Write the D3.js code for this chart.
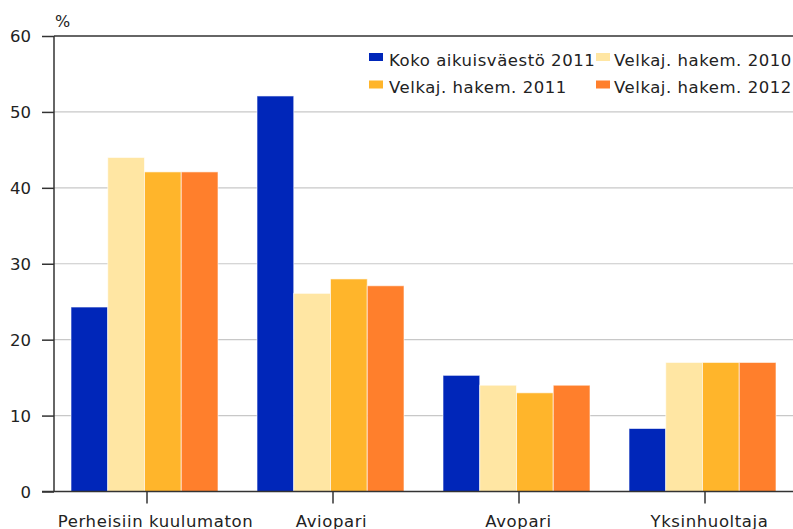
<!DOCTYPE html>
<html><head><meta charset="utf-8">
<script src="https://cdn.jsdelivr.net/npm/d3@7"></script>
<style>body{margin:0;background:#fff}svg{display:block}</style>
</head><body>
<script>
const categories = ["Perheisiin kuulumaton", "Aviopari", "Avopari", "Yksinhuoltaja"];
const seriesNames = ["Koko aikuisväestö 2011", "Velkaj. hakem. 2010", "Velkaj. hakem. 2011", "Velkaj. hakem. 2012"];
const koko2011 = [24.3, 52.1, 15.3, 8.3];
const velkaj2010 = [44.0, 26.1, 14.0, 17.0];
const velkaj2011 = [42.1, 28.0, 13.0, 17.0];
const velkaj2012 = [42.1, 27.1, 14.0, 17.0];
const yTicks = [0, 10, 20, 30, 40, 50, 60];
const colors = ["#0026b9", "#ffe6a3", "#ffb52b", "#ff7f2c"];

const series = [koko2011, velkaj2010, velkaj2011, velkaj2012];
const labelShift = [8.5, -1.5, -0.5, 4.5];
const W = 793, H = 529;
const font = "'DejaVu Sans', sans-serif";
const svg = d3.select("body").append("svg").attr("width", W).attr("height", H)
  .style("font-family", font);

const x0 = d3.scaleBand().domain(categories).range([54, 798]).paddingInner(0).paddingOuter(0);
const x1 = d3.scaleBand().domain(d3.range(series.length)).range([17, 164]);
const y = d3.scaleLinear().domain([0, 60]).range([491.5, 36]);

// gridlines
svg.append("g").selectAll("line").data(yTicks.filter(t => t > 0 && t < 60)).join("line")
  .attr("x1", 54).attr("x2", W).attr("y1", d => y(d)).attr("y2", d => y(d))
  .attr("stroke", "#c8c8c8").attr("stroke-width", 1.2);
// top border
svg.append("line").attr("x1", 54).attr("x2", W).attr("y1", y(60)).attr("y2", y(60))
  .attr("stroke", "#333").attr("stroke-width", 1.5);

// bars
const groups = svg.append("g").selectAll("g").data(categories).join("g")
  .attr("transform", d => `translate(${x0(d)},0)`);
groups.selectAll("rect").data((c, i) => series.map((s, k) => ({k, v: s[i]}))).join("rect")
  .attr("x", d => x1(d.k)).attr("width", x1.bandwidth())
  .attr("y", d => y(d.v)).attr("height", d => y(0) - y(d.v))
  .attr("fill", d => colors[d.k])
  .attr("stroke", "rgba(255,255,255,0.6)").attr("stroke-width", 1);

// y axis
const yAxis = d3.axisLeft(y).tickValues(yTicks).tickSize(12).tickPadding(11);
const gy = svg.append("g").attr("transform", "translate(54,0)").call(yAxis);
gy.select(".domain").attr("stroke", "#333").attr("stroke-width", 1.5).attr("d", `M0,${y(60)}V${y(0)}`);
gy.selectAll(".tick line").attr("stroke", "#333").attr("stroke-width", 1.5);
gy.selectAll(".tick text").attr("font-size", 16.5).attr("font-family", font).attr("fill", "#222").attr("dy", "0.36em");

// x axis
const xAxis = d3.axisBottom(x0).tickSize(12).tickPadding(9).tickSizeOuter(0);
const gx = svg.append("g").attr("transform", `translate(0,${y(0)})`).call(xAxis);
gx.select(".domain").attr("stroke", "#333").attr("stroke-width", 1.5).attr("d", `M42,0H${W}`);
gx.selectAll(".tick line").attr("stroke", "#333").attr("stroke-width", 1.5);
gx.selectAll(".tick text").attr("font-size", 16.5).attr("font-family", font).attr("fill", "#222")
  .attr("dy", "0.9em").attr("letter-spacing", "0.6px")
  .attr("dx", (d, i) => labelShift[i]);

// unit label
svg.append("text").attr("x", 55).attr("y", 26.5).attr("font-size", 16).attr("fill", "#222").text("%");

// legend
const legPos = [[369, 53, 389, 66], [596, 53, 614, 66], [369, 80.5, 389, 92.5], [596, 80.5, 614, 92.5]];
const leg = svg.append("g").selectAll("g").data(seriesNames).join("g");
leg.append("rect").attr("x", (d, i) => legPos[i][0]).attr("y", (d, i) => legPos[i][1])
  .attr("width", 14).attr("height", 8).attr("fill", (d, i) => colors[i]);
leg.append("text").attr("x", (d, i) => legPos[i][2]).attr("y", (d, i) => legPos[i][3])
  .attr("font-size", 16.5).attr("fill", "#222").attr("letter-spacing", "0.55px").text(d => d);
</script>
</body></html>
